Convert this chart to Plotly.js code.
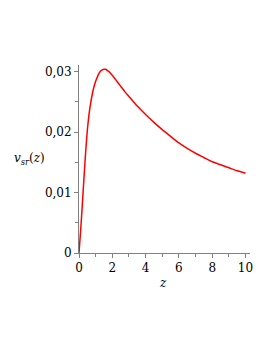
<!DOCTYPE html>
<html>
<head>
<meta charset="utf-8">
<script src="https://cdn.plot.ly/plotly-3.0.1.min.js"></script>
<style>html,body{margin:0;padding:0;background:#fff;}#chart{width:273px;height:353px;}</style>
</head>
<body>
<div id="chart"></div>
<script>
const zValues = [0, 0.1, 0.2, 0.3, 0.4, 0.5, 0.6, 0.7, 0.8, 0.9, 1.0, 1.1, 1.2, 1.3, 1.4, 1.5, 1.6, 1.7, 1.8, 1.9, 2.0, 2.25, 2.5, 2.75, 3.0, 3.5, 4.0, 4.5, 5.0, 5.5, 6.0, 6.5, 7.0, 7.5, 8.0, 8.5, 9.0, 9.5, 10.0];
const vsrValues = [0, 0.0038, 0.0080, 0.0125, 0.0167, 0.0203, 0.0229, 0.0248, 0.0263, 0.0275, 0.0284, 0.0291, 0.0297, 0.0301, 0.0303, 0.0304, 0.0304, 0.0302, 0.0300, 0.0297, 0.0294, 0.0285, 0.0276, 0.0267, 0.0259, 0.0243, 0.0229, 0.0216, 0.0204, 0.0193, 0.0182, 0.0173, 0.0165, 0.0158, 0.0151, 0.0146, 0.0141, 0.0136, 0.0132];
const xTickVals = [0, 2, 4, 6, 8, 10];
const xTickText = ["0", "2", "4", "6", "8", "10"];
const yTickVals = [0, 0.01, 0.02, 0.03];
const yTickText = ["0", "0,01", "0,02", "0,03"];

const font = {family: "DejaVu Serif", size: 12, color: "#000"};

Plotly.newPlot("chart", [{
  x: zValues, y: vsrValues, type: "scatter", mode: "lines",
  line: {color: "#ff0000", width: 1.5, shape: "spline", smoothing: 0.5},
  hoverinfo: "skip"
}], {
  width: 273, height: 353,
  margin: {l: 79, r: 23, t: 65, b: 100},
  paper_bgcolor: "#fff", plot_bgcolor: "#fff",
  showlegend: false,
  font: font,
  xaxis: {
    range: [0, 10.27], showgrid: false, zeroline: false,
    showline: true, linecolor: "#808080", linewidth: 1,
    tickvals: xTickVals, ticktext: xTickText,
    ticks: "outside", ticklen: 4, tickcolor: "#808080", tickwidth: 1,
    minor: {dtick: 1, ticks: "outside", ticklen: 3, tickcolor: "#808080", tickwidth: 1, showgrid: false},
    tickfont: font
  },
  yaxis: {
    range: [0, 0.0311], showgrid: false, zeroline: false,
    showline: true, linecolor: "#808080", linewidth: 1,
    tickvals: yTickVals, ticktext: yTickText,
    ticks: "outside", ticklen: 4, tickcolor: "#808080", tickwidth: 1,
    minor: {dtick: 0.005, tick0: 0, ticks: "outside", ticklen: 3, tickcolor: "#808080", tickwidth: 1, showgrid: false},
    tickfont: font
  },
  annotations: [
    {text: "<i>v</i><sub><i>sr</i></sub>(<i>z</i>)", xref: "paper", yref: "paper",
     x: -0.287, y: 0.5, xanchor: "center", yanchor: "middle", showarrow: false, font: font},
    {text: "<i>z</i>", xref: "paper", yref: "paper",
     x: 0.49, y: -0.16, xanchor: "center", yanchor: "middle", showarrow: false, font: font}
  ]
}, {staticPlot: true, displayModeBar: false});
</script>
</body>
</html>
